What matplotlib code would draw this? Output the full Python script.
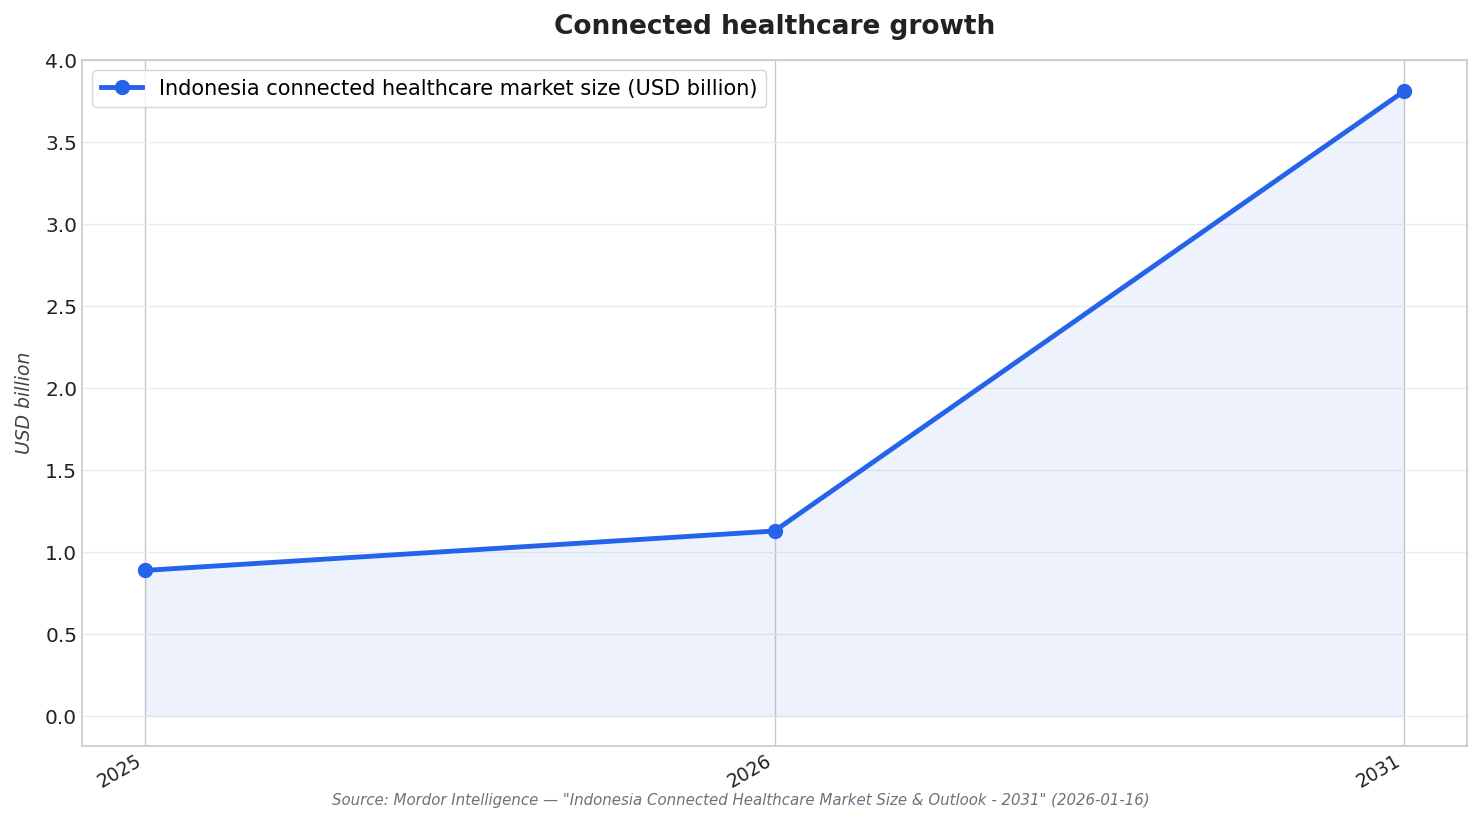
import matplotlib
matplotlib.use("Agg")
import matplotlib.pyplot as plt

plt.rcParams["font.family"] = ["DejaVu Sans"]

# chart data
years = ["2025", "2026", "2031"]
market_size = [0.89, 1.13, 3.81]
series_label = "Indonesia connected healthcare market size (USD billion)"
source_text = 'Source: Mordor Intelligence — "Indonesia Connected Healthcare Market Size & Outlook - 2031" (2026-01-16)'

line_color = "#2563eb"

fig = plt.figure(figsize=(14.82, 8.24), dpi=100)
ax = fig.add_axes([82 / 1482, 1 - 746 / 824, (1467 - 82) / 1482, (746 - 60) / 824])

x = list(range(len(years)))
ax.fill_between(x, market_size, 0, color=line_color, alpha=0.08, linewidth=0)
ax.plot(x, market_size, color=line_color, linewidth=3.5, marker="o", markersize=10,
        label=series_label, zorder=3)

ax.set_xticks(x)
ax.set_xticklabels(years, rotation=30, ha="right", fontsize=13.5, color="#222222")
ax.set_ylim(-0.18, 4.0)
ax.set_xlim(-0.1, 2.1)
ax.set_yticks([0, 0.5, 1.0, 1.5, 2.0, 2.5, 3.0, 3.5, 4.0])
ax.tick_params(axis="y", labelsize=14.5, colors="#222222", length=0)
ax.tick_params(axis="x", length=0)

ax.yaxis.grid(True, color="#ebebeb", linewidth=1)
ax.xaxis.grid(True, color="#c8c8c8", linewidth=1)
ax.set_axisbelow(True)
for s in ax.spines.values():
    s.set_color("#c8c8c8")
    s.set_linewidth(1.2)

ax.set_ylabel("USD billion", fontsize=13.5, style="italic", color="#444444", labelpad=8)
ax.set_title("Connected healthcare growth", fontsize=19, fontweight="bold", color="#222222", pad=19)

leg = ax.legend(loc="upper left", fontsize=15, frameon=True, fancybox=True)
leg.get_frame().set_edgecolor("#cccccc")

fig.text(0.5, 1 - 801 / 824, source_text, ha="center", va="center",
         fontsize=10.8, style="italic", color="#6b7280")

fig.savefig("out.png", dpi=100)
